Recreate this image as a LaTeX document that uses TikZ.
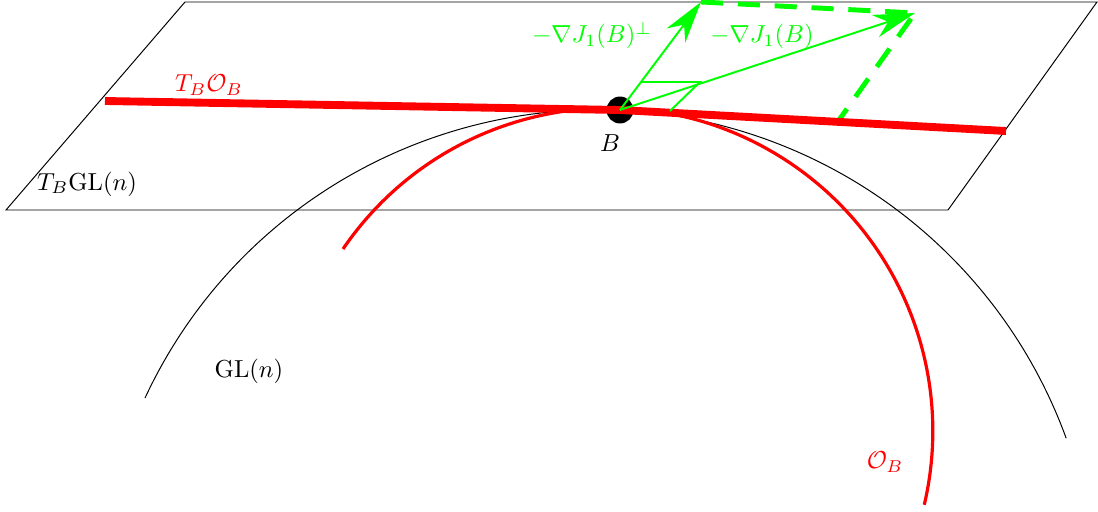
\documentclass[tikz,border=0pt]{standalone}
\usepackage{amssymb}
\usepackage{tikz}
\usetikzlibrary{arrows.meta}

\begin{document}
\begin{tikzpicture}[x=0.0143cm,y=0.0143cm,>={Stealth[length=17pt,width=9.5pt]}, every node/.style={font=\normalsize}]
                \useasboundingbox (0,0) rectangle (1098,511);
                % tangent plane
                \draw (185,509) -- (1097,509) -- (948,301) -- (6,301) -- cycle;
                \node (tgl) at (87,327) {$T_B\mathrm{GL}(n)$};

                \draw (145,113) arc[start angle=155,end angle=20,radius=499];
                \node (gl) at (249,140) {$\mathrm{GL}(n)$};

                \draw[red,line width=1.3pt] (343,262) arc[start angle=145.7,end angle=-13.2,radius=323];
                \node[red] (ob) at (885,49) {$\mathcal{O}_B$};

                \coordinate (l) at (105,410);
                \coordinate (r) at (1006,380);
                \node[circle,fill,inner sep=0pt,minimum size=0.385cm] (B) at (620,401) {};
                \node (b) at (610,368) {$B$};

                \coordinate (perp) at (701,509);
                \coordinate (grad) at (915,498);
                \coordinate (tan) at (839,391);
                \draw[green,line width=2pt,dash pattern=on 9pt off 6pt] (perp) -- (grad) -- (tan);

                \draw[red,line width=3.2pt] (l) -- (B.center) -- (r);
                \node[red] (tob) at (209,426) {$T_B\mathcal{O}_B$};

                \draw[->,green,thick] (B.center) -- (perp);
                \draw[->,green,thick] (B.center) -- (grad);
                \node[green,anchor=base] (lperp) at (592,468) {$-\nabla J_1(B)^\perp$};
                \node[green,anchor=base] (lgrad) at (762,468) {$-\nabla J_1(B)$};

                \coordinate (m1) at (642,429);
                \coordinate (m2) at (700,429);
                \coordinate (m3) at (670,400);
                \draw[green,thick] (m1) -- (m2) -- (m3);
            \end{tikzpicture}
\end{document}
